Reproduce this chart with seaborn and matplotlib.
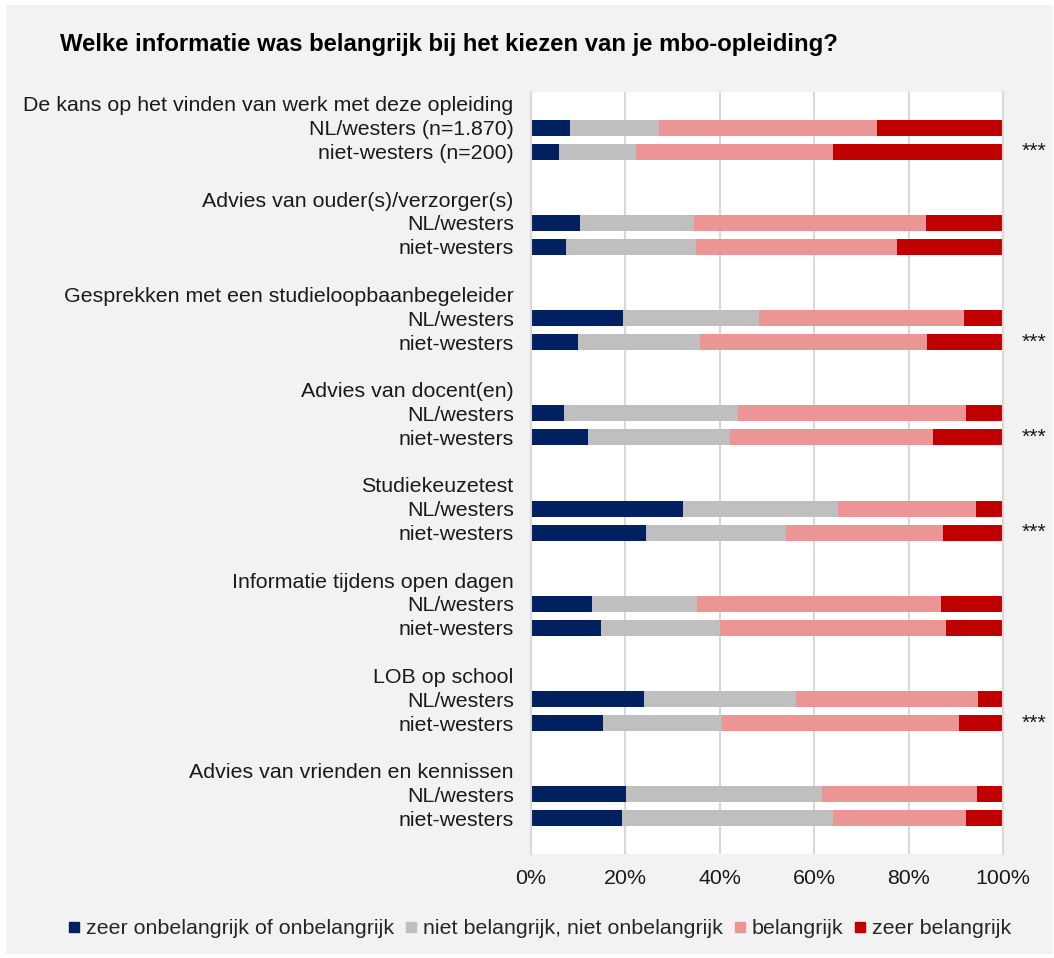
import matplotlib
matplotlib.use("Agg")
import matplotlib.pyplot as plt
from matplotlib.patches import Rectangle
from matplotlib.lines import Line2D
import numpy as np
import pandas as pd
import seaborn as sns

# --- data -------------------------------------------------------------
title = "Welke informatie was belangrijk bij het kiezen van je mbo-opleiding?"

categories = [
    "De kans op het vinden van werk met deze opleiding",
    "Advies van ouder(s)/verzorger(s)",
    "Gesprekken met een studieloopbaanbegeleider",
    "Advies van docent(en)",
    "Studiekeuzetest",
    "Informatie tijdens open dagen",
    "LOB op school",
    "Advies van vrienden en kennissen",
]
first_group_labels = ["NL/westers (n=1.870)", "niet-westers (n=200)"]
group_labels = ["NL/westers", "niet-westers"]
significance = ["***", "", "***", "***", "***", "", "***", ""]

series_names = [
    "zeer onbelangrijk of onbelangrijk",
    "niet belangrijk, niet onbelangrijk",
    "belangrijk",
    "zeer belangrijk",
]
# one value per bar, order: NL/westers, niet-westers for each category
zeer_onbelangrijk = [8.2, 5.9, 10.3, 7.4, 19.4, 10.0, 6.9, 12.0,
                     32.2, 24.4, 13.0, 14.9, 23.9, 15.3, 20.1, 19.2]
neutraal = [19.0, 16.4, 24.2, 27.6, 28.8, 25.7, 37.0, 30.1,
            32.9, 29.7, 22.2, 25.1, 32.3, 25.2, 41.6, 44.8]
belangrijk = [46.1, 41.6, 49.2, 42.5, 43.5, 48.2, 48.2, 43.1,
              29.2, 33.2, 51.6, 47.9, 38.6, 50.1, 32.7, 28.2]
zeer_belangrijk = [26.7, 36.1, 16.3, 22.5, 8.3, 16.1, 7.9, 14.8,
                   5.7, 12.7, 13.2, 12.1, 5.2, 9.4, 5.6, 7.8]

colors = ["#002060", "#bfbfbf", "#eb9694", "#c00000"]

# --- layout of rows: header, NL, niet-westers, spacer per category ------
slots_per_group = 4
bar_pos = []
tick_pos, tick_lab = [], []
for g, cat in enumerate(categories):
    base = g * slots_per_group
    labs = first_group_labels if g == 0 else group_labels
    tick_pos += [base, base + 1, base + 2]
    tick_lab += [cat, labs[0], labs[1]]
    bar_pos += [base + 1, base + 2]

df = pd.DataFrame({
    "pos": bar_pos,
    series_names[0]: zeer_onbelangrijk,
    series_names[1]: neutraal,
    series_names[2]: belangrijk,
    series_names[3]: zeer_belangrijk,
})
cum = df[series_names].cumsum(axis=1)

# --- figure -----------------------------------------------------------
sns.set_theme(style="white")
plt.rcParams["font.family"] = ["Liberation Sans", "DejaVu Sans"]
fs = 15.4
text_color = "#1a1a1a"

fig = plt.figure(figsize=(10.54, 9.58), dpi=100)
fig.patch.set_facecolor("white")
fig.patches.append(Rectangle((6 / 1054, 4 / 958), 1047 / 1054, 949 / 958,
                             transform=fig.transFigure, facecolor="#f2f2f2",
                             edgecolor="none", zorder=-10))

ax = fig.add_axes([531 / 1054, 1 - 854 / 958, 472 / 1054, 762 / 958])
ax.set_facecolor("white")

# stacked bars: draw cumulative totals from the back to the front
for i in range(len(series_names) - 1, -1, -1):
    plot_df = pd.DataFrame({"pos": df["pos"], "value": cum[series_names[i]]})
    sns.barplot(data=plot_df, x="value", y="pos", orient="h", native_scale=True,
                color=colors[i], width=0.67, errorbar=None, linewidth=0,
                saturation=1, ax=ax)

ax.set_xlim(0, 100)
ax.set_ylim(slots_per_group * len(categories) - 0.5, -0.5)
ax.set_xticks(np.arange(0, 101, 20))
ax.set_xticklabels([f"{v}%" for v in range(0, 101, 20)], fontsize=fs, color=text_color)
ax.set_yticks(tick_pos)
ax.set_yticklabels(tick_lab, fontsize=fs, color=text_color)
ax.tick_params(axis="both", length=0)
ax.tick_params(axis="y", pad=12.5)
ax.tick_params(axis="x", pad=11)
ax.set_xlabel("")
ax.set_ylabel("")

ax.xaxis.grid(True, color="#d9d9d9", linewidth=1.5)
ax.yaxis.grid(False)
ax.set_axisbelow(True)
for side in ["top", "bottom"]:
    ax.spines[side].set_visible(False)
for side in ["left", "right"]:
    ax.spines[side].set_color("#d9d9d9")
    ax.spines[side].set_linewidth(1.5)

# significance markers next to the niet-westers bar
for g, mark in enumerate(significance):
    if mark:
        ax.text(104, g * slots_per_group + 2, mark, fontsize=fs, ha="left",
                va="center", color=text_color, clip_on=False)

fig.text(60 / 1054, 1 - 45 / 958, title, fontsize=17.2, fontweight="bold",
         ha="left", va="center", color="black")

handles = [Line2D([0], [0], marker="s", linestyle="none", markersize=7.6,
                  markerfacecolor=c, markeredgecolor=c) for c in colors]
fig.legend(handles, series_names, loc="center", ncol=4, frameon=False,
           bbox_to_anchor=(540 / 1054, 1 - 929 / 958), fontsize=fs,
           handlelength=0.5, handletextpad=0.3, columnspacing=0.55,
           borderaxespad=0, borderpad=0)

fig.savefig("out.png", dpi=100, facecolor=fig.get_facecolor())
